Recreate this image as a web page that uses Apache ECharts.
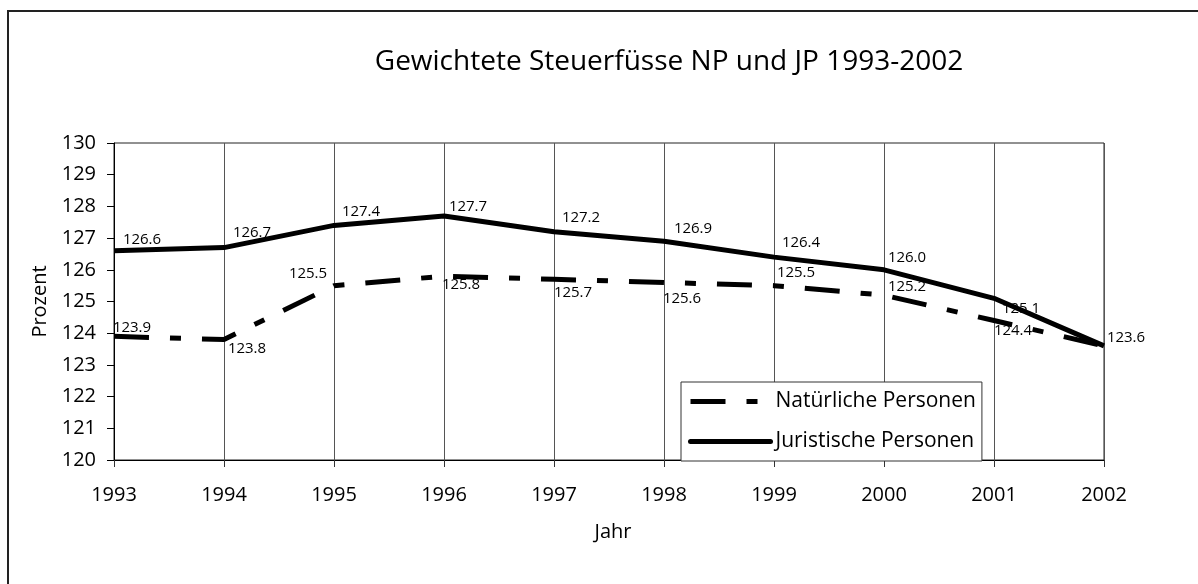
<!DOCTYPE html>
<html>
<head>
<meta charset="utf-8">
<script src="https://cdn.jsdelivr.net/npm/echarts@6/dist/echarts.min.js"></script>
<style>
  html, body { margin: 0; padding: 0; background: #fff; }
  #chart { width: 1198px; height: 584px; }
</style>
</head>
<body>
<div id="chart"></div>
<script>
// Daten: gewichtete Steuerfüsse in Prozent
const years = ['1993', '1994', '1995', '1996', '1997', '1998', '1999', '2000', '2001', '2002'];
const natuerliche = [123.9, 123.8, 125.5, 125.8, 125.7, 125.6, 125.5, 125.2, 124.4, 123.6];
const juristische = [126.6, 126.7, 127.4, 127.7, 127.2, 126.9, 126.4, 126.0, 125.1, 123.6];

// Lage der Wertbeschriftungen (Textmitte relativ zum Punkt), wie im Original
const npLabelOffset = [[18, -9], [23, 9], [-26, -12], [17, 9], [19, 13], [18, 16], [22, -13], [23, -8], [19, 10], [22, -8]];
const jpLabelOffset = [[28, -11], [28, -15], [27, -14], [24, -9], [27, -14], [29, -13], [27, -14], [23, -12], [27, 10], [22, -8]];

const FONT = '"Open Sans", "Noto Sans", sans-serif';
const NP_DASH = [35, 21, 11, 21];
const LINE_W = 5;

const withLabels = (values, offsets, hideLast) =>
  values.map((v, i) => ({
    value: v,
    label: {
      offset: offsets[i],
      // 2002: beide Reihen haben denselben Wert, nur eine Beschriftung zeigen
      show: !(hideLast && i === values.length - 1)
    }
  }));

const chart = echarts.init(document.getElementById('chart'), null, { renderer: 'canvas' });

chart.setOption({
  animation: false,
  backgroundColor: '#fff',
  textStyle: { fontFamily: FONT, color: '#000' },
  graphic: [
    {
      type: 'rect',
      shape: { x: 8, y: 11, width: 1200, height: 600 },
      style: { fill: 'none', stroke: '#222', lineWidth: 2 },
      silent: true
    },
    {
      type: 'text',
      x: 669,
      y: 62,
      style: {
        text: 'Gewichtete Steuerfüsse NP und JP 1993-2002',
        font: '28px ' + FONT,
        fill: '#000',
        align: 'center',
        verticalAlign: 'middle'
      }
    }
  ],
  grid: {
    left: 114,
    right: 94,
    top: 143,
    bottom: 124,
    show: true,
    borderColor: '#222',
    borderWidth: 1
  },
  legend: {
    orient: 'vertical',
    left: 681,
    top: 382,
    padding: [9, 6, 9, 7],
    itemGap: 19,
    itemWidth: 80,
    itemHeight: 14,
    backgroundColor: '#fff',
    borderColor: '#333',
    borderWidth: 1,
    textStyle: { fontFamily: FONT, fontSize: 21, color: '#000' },
    itemStyle: { opacity: 0 },
    data: [
      { name: 'Natürliche Personen', lineStyle: { color: '#000', width: LINE_W, type: NP_DASH, cap: 'butt' } },
      { name: 'Juristische Personen', lineStyle: { color: '#000', width: LINE_W, type: 'solid', cap: 'round' } }
    ]
  },
  xAxis: {
    type: 'category',
    data: years,
    boundaryGap: false,
    name: 'Jahr',
    nameLocation: 'middle',
    nameGap: 62,
    nameTextStyle: { fontSize: 20, color: '#000', padding: [0, 0, 0, 8] },
    axisLine: { lineStyle: { color: '#000', width: 1 } },
    axisTick: { show: true, length: 7, lineStyle: { color: '#333' } },
    axisLabel: { fontSize: 20, color: '#000', margin: 25 },
    splitLine: { show: true, lineStyle: { color: '#555', width: 1 } }
  },
  yAxis: {
    type: 'value',
    min: 120,
    max: 130,
    interval: 1,
    name: 'Prozent',
    nameLocation: 'middle',
    nameGap: 64,
    nameTextStyle: { fontSize: 20, color: '#000' },
    axisLine: { show: true, lineStyle: { color: '#000', width: 1 } },
    axisTick: { show: true, length: 7, lineStyle: { color: '#000' } },
    axisLabel: { fontSize: 20, color: '#000', margin: 18 },
    splitLine: { show: false }
  },
  series: [
    {
      name: 'Natürliche Personen',
      type: 'line',
      data: withLabels(natuerliche, npLabelOffset, true),
      symbol: 'circle',
      symbolSize: 2,
      itemStyle: { color: 'transparent' },
      lineStyle: { color: '#000', width: LINE_W, type: NP_DASH, cap: 'butt' },
      label: {
        show: true,
        position: 'inside',
        fontSize: 15,
        color: '#000',
        fontFamily: FONT,
        formatter: p => p.value.toFixed(1)
      },
      z: 3
    },
    {
      name: 'Juristische Personen',
      type: 'line',
      data: withLabels(juristische, jpLabelOffset, false),
      symbol: 'circle',
      symbolSize: 2,
      itemStyle: { color: 'transparent' },
      lineStyle: { color: '#000', width: LINE_W, cap: 'butt' },
      label: {
        show: true,
        position: 'inside',
        fontSize: 15,
        color: '#000',
        fontFamily: FONT,
        formatter: p => p.value.toFixed(1)
      },
      z: 4
    }
  ]
});

window.addEventListener('resize', () => chart.resize());
</script>
</body>
</html>
